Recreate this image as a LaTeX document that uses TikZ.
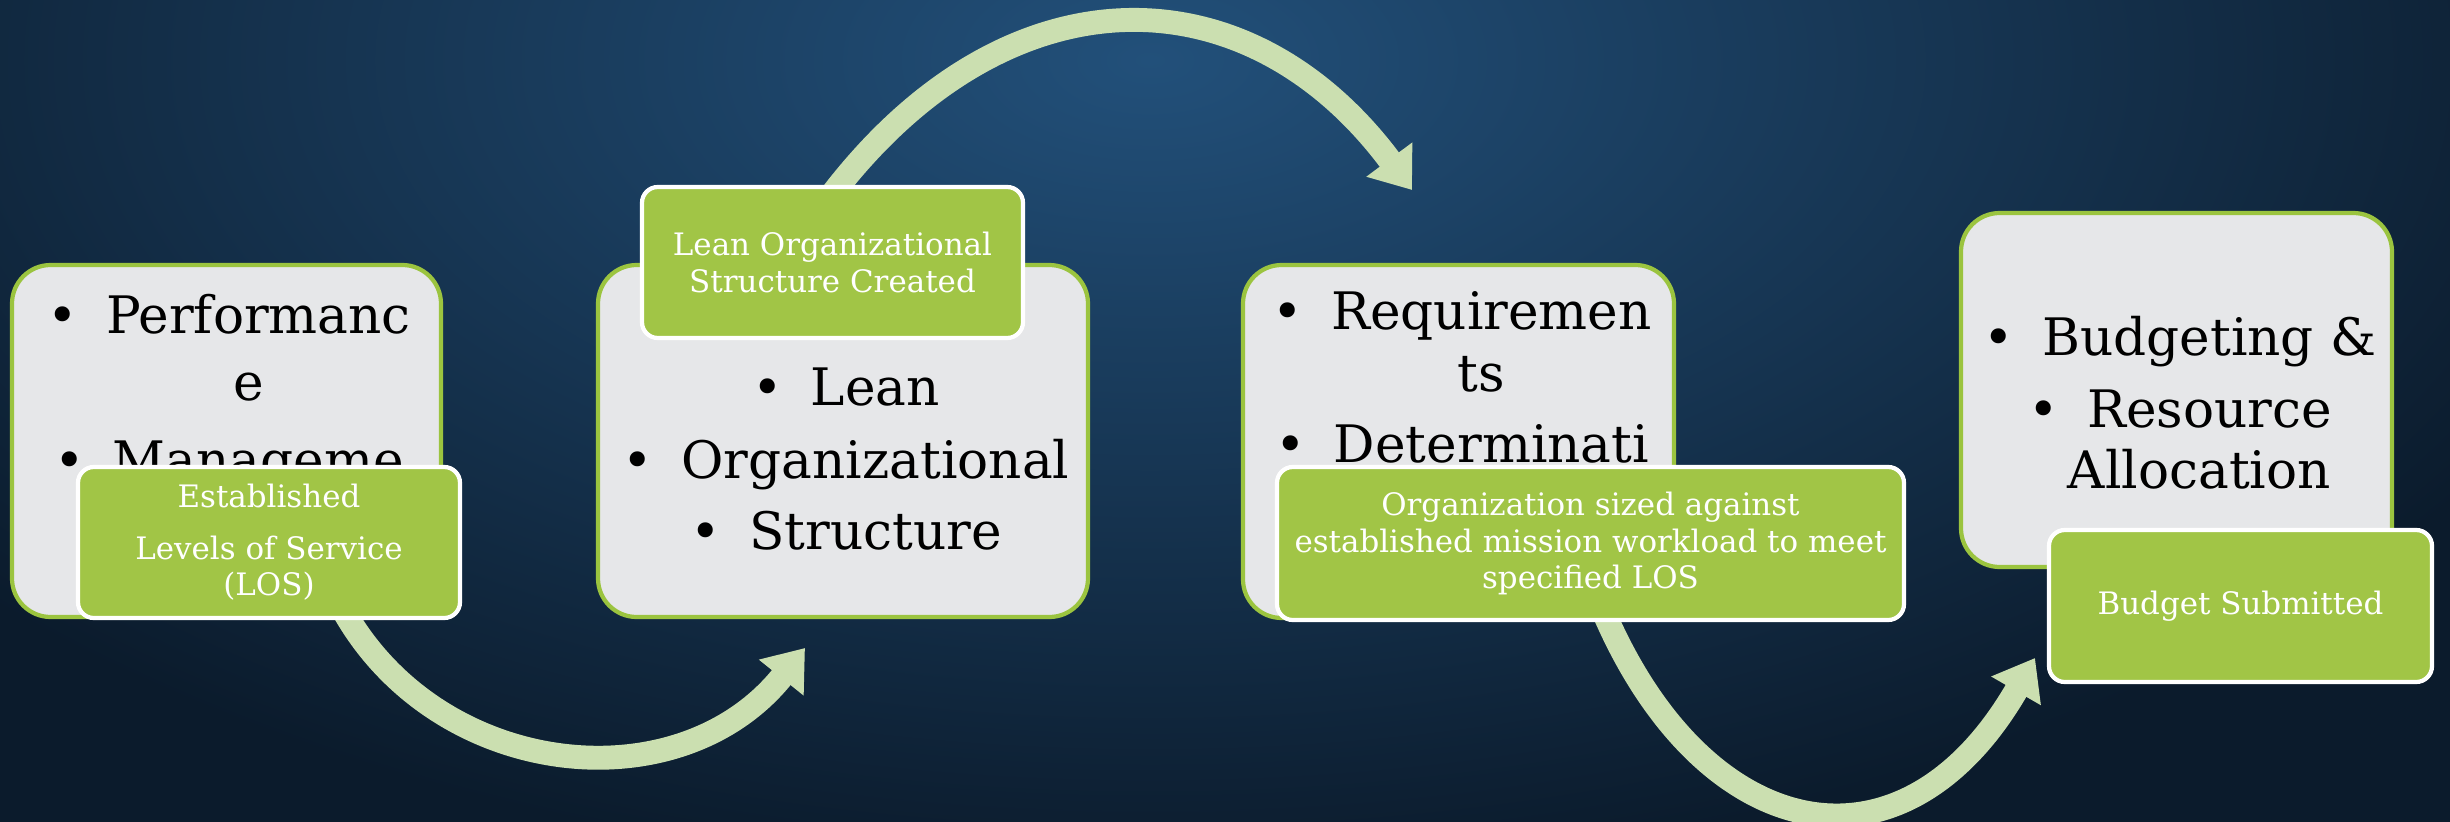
\documentclass[tikz,border=0pt]{standalone}
\usepackage{fontspec}
\setmainfont{DejaVu Serif}
\usepackage{tikz}
\usetikzlibrary{arrows.meta}

\definecolor{bgdark}{HTML}{0B1B2C}
\definecolor{bglight}{HTML}{22507A}
\definecolor{boxgray}{HTML}{E6E7E9}
\definecolor{leaf}{HTML}{9BC43F}
\definecolor{leaffill}{HTML}{A1C546}
\definecolor{arrowgreen}{HTML}{CBDFB0}

\newcommand{\blt}{\textbullet\hspace{0.55em}}

\begin{document}
\begin{tikzpicture}[x=0.1mm, y=-0.1mm, phase/.style={draw=leaf, fill=boxgray, rounded corners=11pt, line width=1.2pt}, phasetxt/.style={anchor=north, inner sep=0pt, align=center, font=\fontsize{14.7}{19}\selectfont}, result/.style={draw=white, fill=leaffill, rounded corners=4.5pt, line width=1.2pt, text=white, align=center, font=\fontsize{8.8}{10.4}\selectfont}, flow/.style={draw=arrowgreen, line width=6.8pt, -{Triangle[length=10.8pt, width=15.6pt]}}]
                % background
                \useasboundingbox (0,0) rectangle (2450,822);
                \fill[bgdark] (0,0) rectangle (2450,822);
                \shade[inner color=bglight, outer color=bgdark] (1150,60) ellipse (1550 and 820);
                % arrow ends
                \coordinate (c1a) at (333,590);
                \coordinate (c1b) at (805,648);
                \coordinate (c2a) at (824,205);
                \coordinate (c2b) at (1412,190);
                \coordinate (c3a) at (1605,615);
                \coordinate (c3b) at (2035,658);
                % edges
                \draw[flow] (c1a) .. controls (420,778) and (675,810) .. (c1b);
                \draw[flow] (c2a) .. controls (1000,-34) and (1245,-34) .. (c2b);
                \draw[flow] (c3a) .. controls (1705,844) and (1902,888) .. (c3b);
                % nodes
                \node[phase, minimum width=42.9mm, minimum height=35.2mm] (perf) at (226.5,441) {};
                \node[phase, minimum width=49mm, minimum height=35.2mm] (lean) at (843,441) {};
                \node[phase, minimum width=43.1mm, minimum height=35.3mm] (req) at (1458.5,441.5) {};
                \node[phase, minimum width=43.1mm, minimum height=35.4mm] (budg) at (2176.5,390) {};
                \node[phasetxt] (perftxt) at (229,294) {\blt Performanc\\ \hspace*{11pt}e\\[3pt] \blt Manageme};
                \node[phasetxt] (leantxt) at (846,367) {\blt Lean\\[1.7pt] \blt Organizational\\[1.4pt] \blt Structure};
                \node[phasetxt] (reqtxt) at (1462,291) {\blt Requiremen\\[-1.4pt] \hspace*{11pt}ts\\[1.1pt] \blt Determinati};
                \node[phasetxt] (budgtxt) at (2180,316) {\blt Budgeting \&\\[1.4pt] \blt Resource\\[-1.7pt] \hspace*{11pt}Allocation};
                \node[result, minimum width=38.2mm, minimum height=15.1mm] (estab) at (269,542.5) {Established\\[4.3pt] Levels of Service\\ (LOS)};
                \node[result, minimum width=38.1mm, minimum height=15.1mm] (created) at (832.5,262.5) {Lean Organizational\\ Structure Created};
                \node[result, minimum width=62.7mm, minimum height=15.3mm] (sized) at (1590.5,543.5) {Organization sized against\\ established mission workload to meet\\ specified LOS};
                \node[result, minimum width=38.3mm, minimum height=15.2mm] (submit) at (2240.5,606) {Budget Submitted};
            \end{tikzpicture}
\end{document}
